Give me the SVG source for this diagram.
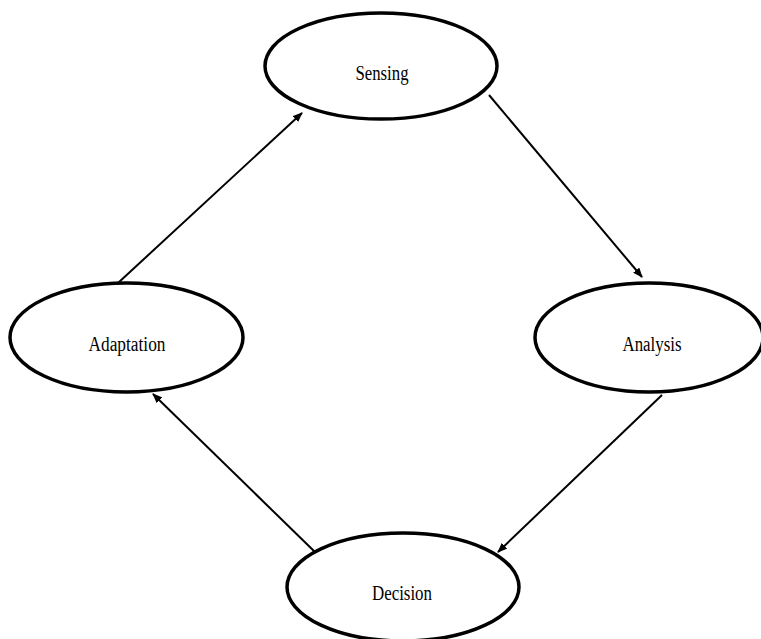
<svg xmlns="http://www.w3.org/2000/svg" width="761" height="639" viewBox="0 0 761 639">
<style>
.node ellipse{fill:#fff;stroke:#000;stroke-width:3.5}
.node text{font-family:"Liberation Serif","Times New Roman",serif;font-size:20px;fill:#000;text-anchor:middle}
.conn line{stroke:#000;stroke-width:2;marker-end:url(#ah)}
</style>
<defs>
<marker id="ah" markerWidth="10" markerHeight="8" refX="9" refY="4" orient="auto" markerUnits="userSpaceOnUse">
<path d="M0,0 L10,4 L0,8 Z" fill="#000"/>
</marker>
</defs>
<rect width="761" height="639" fill="#fff"/>
<g id="connectors" class="conn">
<line x1="118" y1="283" x2="302" y2="113"/>
<line x1="489" y1="95" x2="642" y2="277"/>
<line x1="662" y1="395" x2="498" y2="552"/>
<line x1="315" y1="552" x2="153" y2="394"/>
</g>
<g id="sensing" class="node">
<ellipse cx="381" cy="66" rx="116" ry="53"/>
<text x="382" y="80" textLength="53" lengthAdjust="spacingAndGlyphs">Sensing</text>
</g>
<g id="adaptation" class="node">
<ellipse cx="126.5" cy="337.5" rx="116.5" ry="54.5"/>
<text x="127" y="351" textLength="77" lengthAdjust="spacingAndGlyphs">Adaptation</text>
</g>
<g id="analysis" class="node">
<ellipse cx="649" cy="337.5" rx="114" ry="54.5"/>
<text x="652" y="351" textLength="59" lengthAdjust="spacingAndGlyphs">Analysis</text>
</g>
<g id="decision" class="node">
<ellipse cx="403" cy="587" rx="116" ry="54"/>
<text x="402" y="600" textLength="60" lengthAdjust="spacingAndGlyphs">Decision</text>
</g>
</svg>
